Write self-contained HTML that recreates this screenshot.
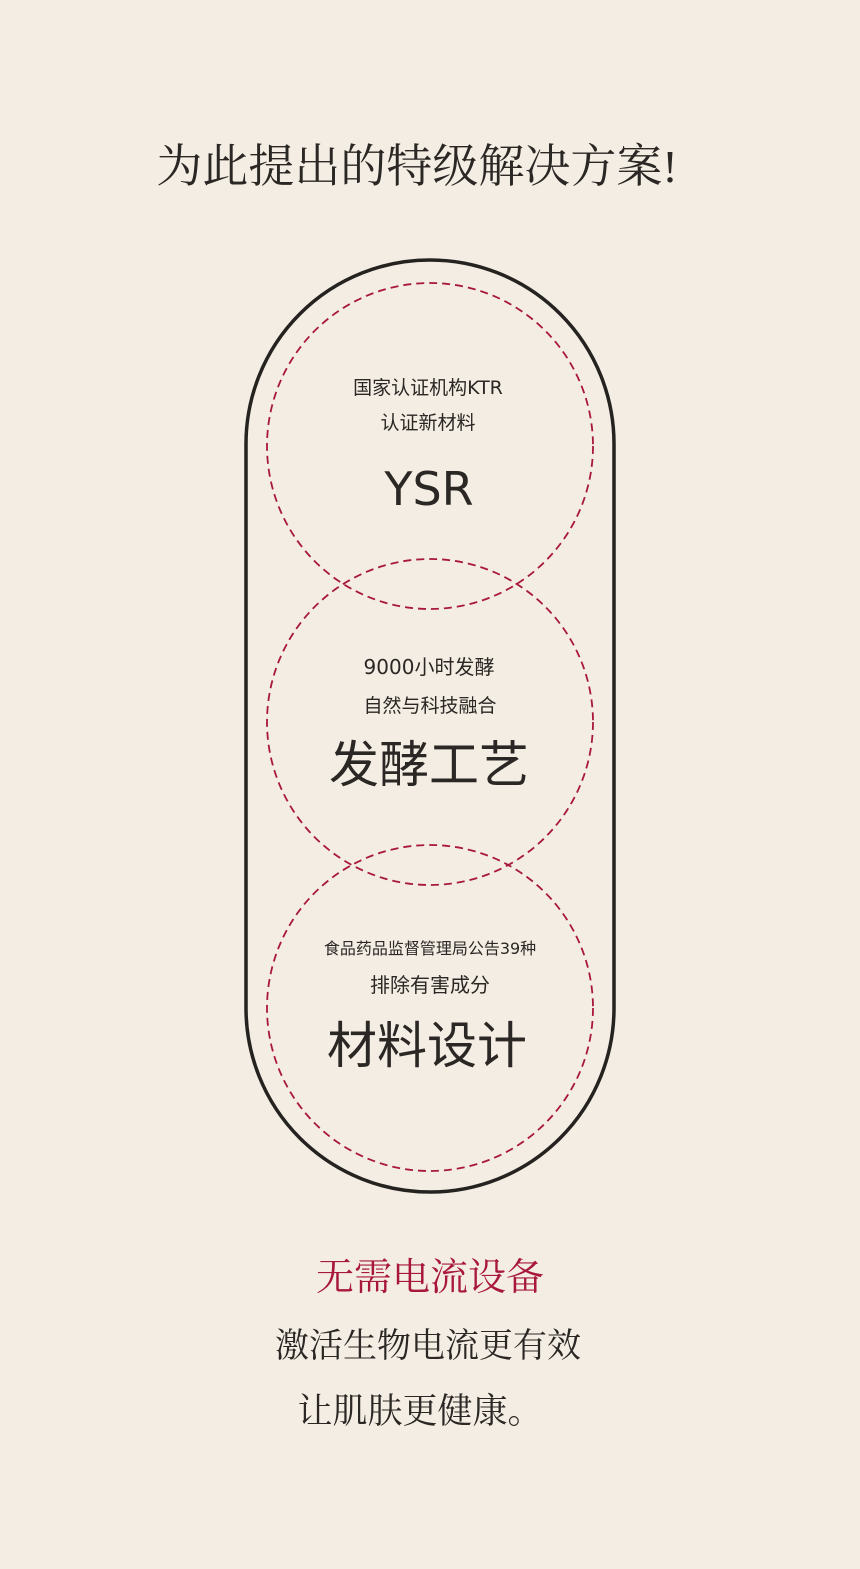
<!DOCTYPE html>
<html><head><meta charset="utf-8"><style>
html,body{margin:0;padding:0;background:#f4ede3;}
svg{display:block}
.s{font-family:"DejaVu Sans","Noto Sans CJK SC",sans-serif;fill:#2a2724}
.r{font-family:"Liberation Serif","Noto Serif CJK SC",serif;fill:#2a2724}
</style></head><body>
<svg width="860" height="1569" viewBox="0 0 860 1569" xmlns="http://www.w3.org/2000/svg">
<rect width="860" height="1569" fill="#f4ede3"/>
<text class="r" x="417" y="182" font-size="46" text-anchor="middle">为此提出的特级解决方案!</text>
<rect x="246" y="260" width="368" height="932" rx="184" ry="184" fill="none" stroke="#252320" stroke-width="3.5"/>
<g fill="none" stroke="#a8183c" stroke-width="1.8" stroke-dasharray="8 5">
<circle cx="430" cy="446" r="163"/>
<circle cx="430" cy="722" r="163"/>
<circle cx="430" cy="1008" r="163"/>
</g>
<text class="s" x="428" y="394" font-size="19" text-anchor="middle" fill="#3a3633">国家认证机构KTR</text>
<text class="s" x="428" y="429" font-size="19" text-anchor="middle" fill="#3a3633">认证新材料</text>
<text class="s" x="429" y="505" font-size="46" text-anchor="middle">YSR</text>
<text class="s" x="429" y="674" font-size="20" text-anchor="middle" fill="#3a3633">9000小时发酵</text>
<text class="s" x="430" y="712" font-size="19" text-anchor="middle" fill="#3a3633">自然与科技融合</text>
<text class="s" x="429" y="782" font-size="50" text-anchor="middle">发酵工艺</text>
<text class="s" x="430" y="954" font-size="16" text-anchor="middle" fill="#3a3633">食品药品监督管理局公告39种</text>
<text class="s" x="430" y="992" font-size="20" text-anchor="middle" fill="#3a3633">排除有害成分</text>
<text class="s" x="427" y="1063" font-size="50" text-anchor="middle">材料设计</text>
<text class="r" x="430" y="1290" font-size="38" text-anchor="middle" style="fill:#a8183c">无需电流设备</text>
<text class="r" x="428" y="1357" font-size="34" text-anchor="middle">激活生物电流更有效</text>
<text class="r" x="420" y="1423" font-size="35" text-anchor="middle">让肌肤更健康。</text>
</svg>
</body></html>
